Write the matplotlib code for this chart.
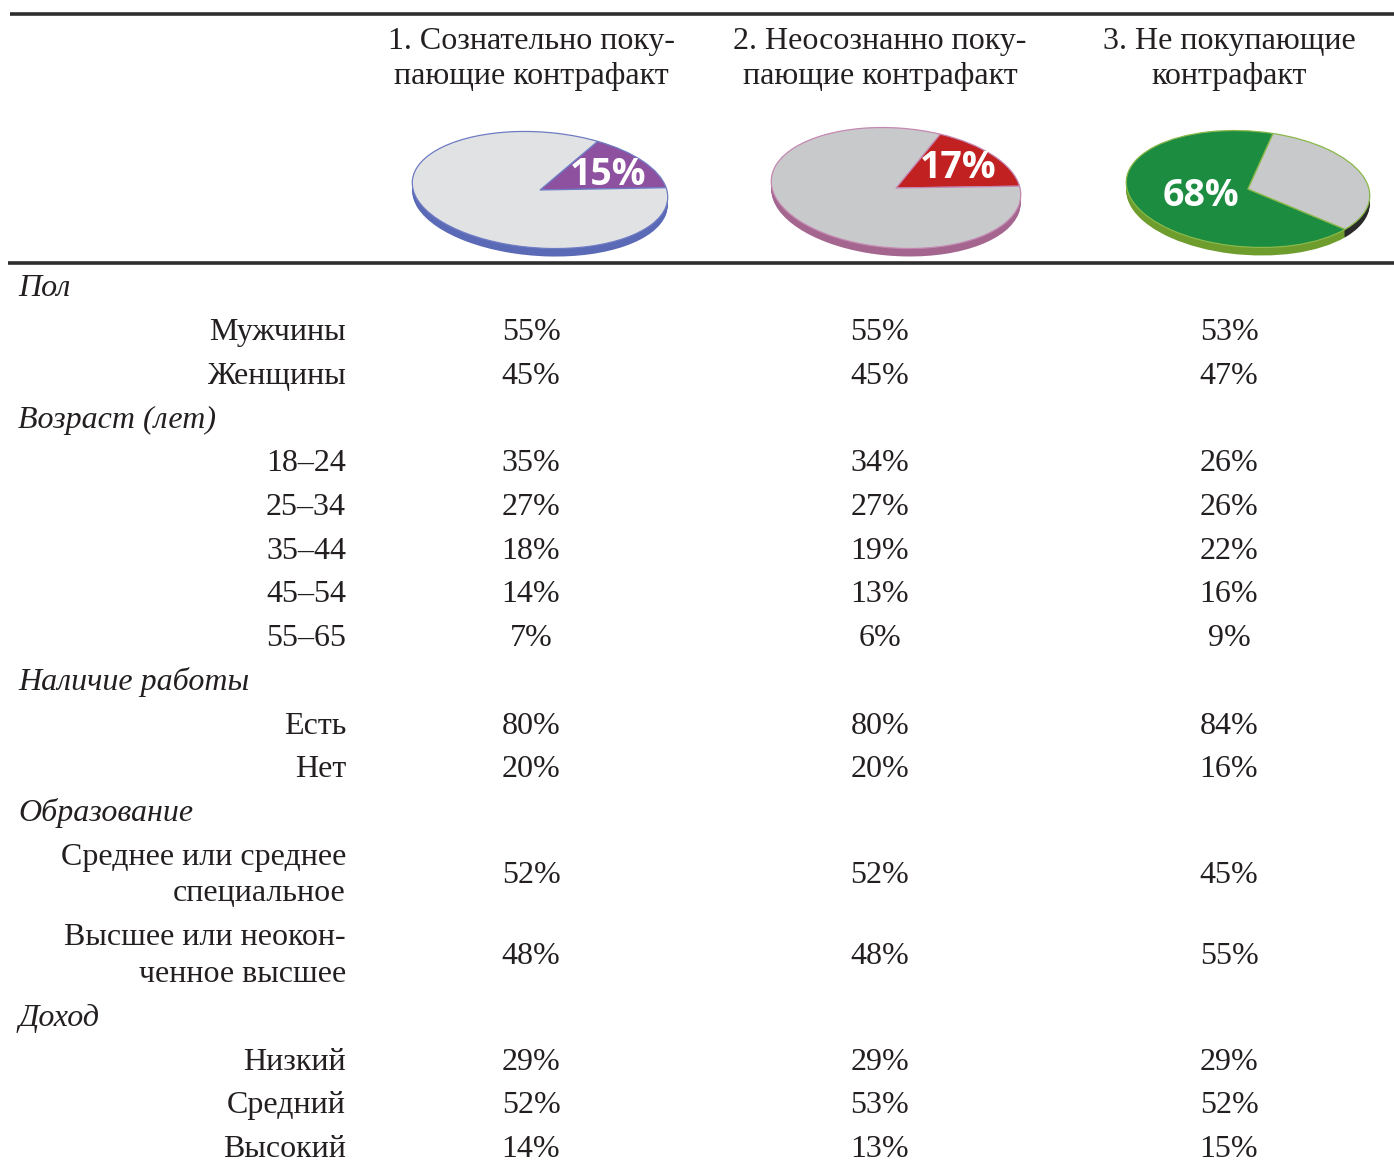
import matplotlib
matplotlib.use("Agg")
import matplotlib.pyplot as plt
from matplotlib.transforms import Affine2D

# ---------------- data ----------------
col_headers = ["1. Сознательно поку-\nпающие контрафакт",
               "2. Неосознанно поку-\nпающие контрафакт",
               "3. Не покупающие\nконтрафакт"]

pie_shares = [15, 17, 68]          # highlighted share for each group
pie_labels = ["15%", "17%", "68%"]

group_titles = ["Пол", "Возраст (лет)", "Наличие работы", "Образование", "Доход"]
group_rows = [
    ["Мужчины", "Женщины"],
    ["18–24", "25–34", "35–44", "45–54", "55–65"],
    ["Есть", "Нет"],
    ["Среднее или среднее\nспециальное", "Высшее или неокон-\nченное высшее"],
    ["Низкий", "Средний", "Высокий"],
]
col1 = [55, 45, 35, 27, 18, 14, 7, 80, 20, 52, 48, 29, 52, 14]
col2 = [55, 45, 34, 27, 19, 13, 6, 80, 20, 52, 48, 29, 53, 13]
col3 = [53, 47, 26, 26, 22, 16, 9, 84, 16, 45, 55, 29, 52, 15]

# ---------------- layout / style ----------------
W, H = 1394, 1167
fig = plt.figure(figsize=(W / 100, H / 100), dpi=100)
ax = fig.add_axes([0, 0, 1, 1])

SERIF = "Liberation Serif"
FS = 23
TXT = "#231f20"
col_x = [531, 880, 1229]
label_x = 346
group_x = 18

pie_styles = [
    dict(center=(540, 190), a=128, b=58, rot=4, start=11,
         top=["#8e51a0", "#e1e2e4"], side=["#5b6ab6", "#5b6ab6"], edge="#6f7cc4",
         txt=(608, 175)),
    dict(center=(896, 188), a=125, b=60, rot=4, start=10,
         top=["#c12121", "#c8c9cb"], side=["#a4668f", "#a4668f"], edge="#c488b2",
         txt=(958, 168)),
    dict(center=(1248, 189), a=122, b=58, rot=4, start=80,
         top=["#1b8c40", "#c8c9cb"], side=["#6e9d2e", "#2a2a2a"], edge="#8ab84a",
         txt=(1201, 196)),
]

DEPTH = 8


def place(wedges, cx, cy, a, b, rot):
    tr = Affine2D().scale(a, -b).rotate_deg(rot).translate(cx, cy) + ax.transData
    for w in wedges:
        w.set_transform(tr)


for share, lab, st in zip(pie_shares, pie_labels, pie_styles):
    vals = [share, 100 - share]
    cx, cy = st["center"]
    # side (extrusion)
    for d in range(DEPTH, 0, -1):
        res = ax.pie(vals, colors=st["side"], startangle=st["start"], counterclock=True,
                     radius=1, center=(0, 0), frame=True,
                     wedgeprops=dict(linewidth=0))
        place(res[0], cx, cy + d, st["a"], st["b"], st["rot"])
    # top face
    res = ax.pie(vals, colors=st["top"], startangle=st["start"], counterclock=True,
                 radius=1, center=(0, 0), frame=True,
                 wedgeprops=dict(linewidth=0.9, edgecolor=st["edge"]))
    place(res[0], cx, cy, st["a"], st["b"], st["rot"])
    ax.text(st["txt"][0], st["txt"][1], lab, color="white", fontsize=27,
            fontweight="bold", family="Open Sans", ha="center", va="center")

ax.set_xlim(0, W)
ax.set_ylim(H, 0)
ax.set_aspect("auto")
ax.axis("off")

# rules
ax.plot([10, W], [14, 14], color="#2e2e2e", lw=2.6, solid_capstyle="butt")
ax.plot([8, W], [263, 263], color="#2e2e2e", lw=2.6, solid_capstyle="butt")

# column headers
for x, h in zip(col_x, col_headers):
    ax.text(x, 59, h, fontsize=FS, family=SERIF, ha="center", va="center",
            linespacing=1.3, color=TXT)

# table body
STEP = 43.7
EXTRA = 37
y = 289
k = 0
for title, rows in zip(group_titles, group_rows):
    ax.text(group_x, y, title, fontsize=FS, family=SERIF, style="italic",
            ha="left", va="center", color=TXT)
    y += STEP
    for r in rows:
        nlines = r.count("\n") + 1
        yc = y + (nlines - 1) * EXTRA / 2
        ax.text(label_x, yc, r, fontsize=FS, family=SERIF, ha="right", va="center",
                linespacing=1.35, color=TXT)
        for x, col in zip(col_x, [col1, col2, col3]):
            ax.text(x, yc, f"{col[k]}%", fontsize=FS, family=SERIF, ha="center",
                    va="center", color=TXT)
        k += 1
        y += STEP + (nlines - 1) * EXTRA

fig.savefig("out.png", dpi=100)
